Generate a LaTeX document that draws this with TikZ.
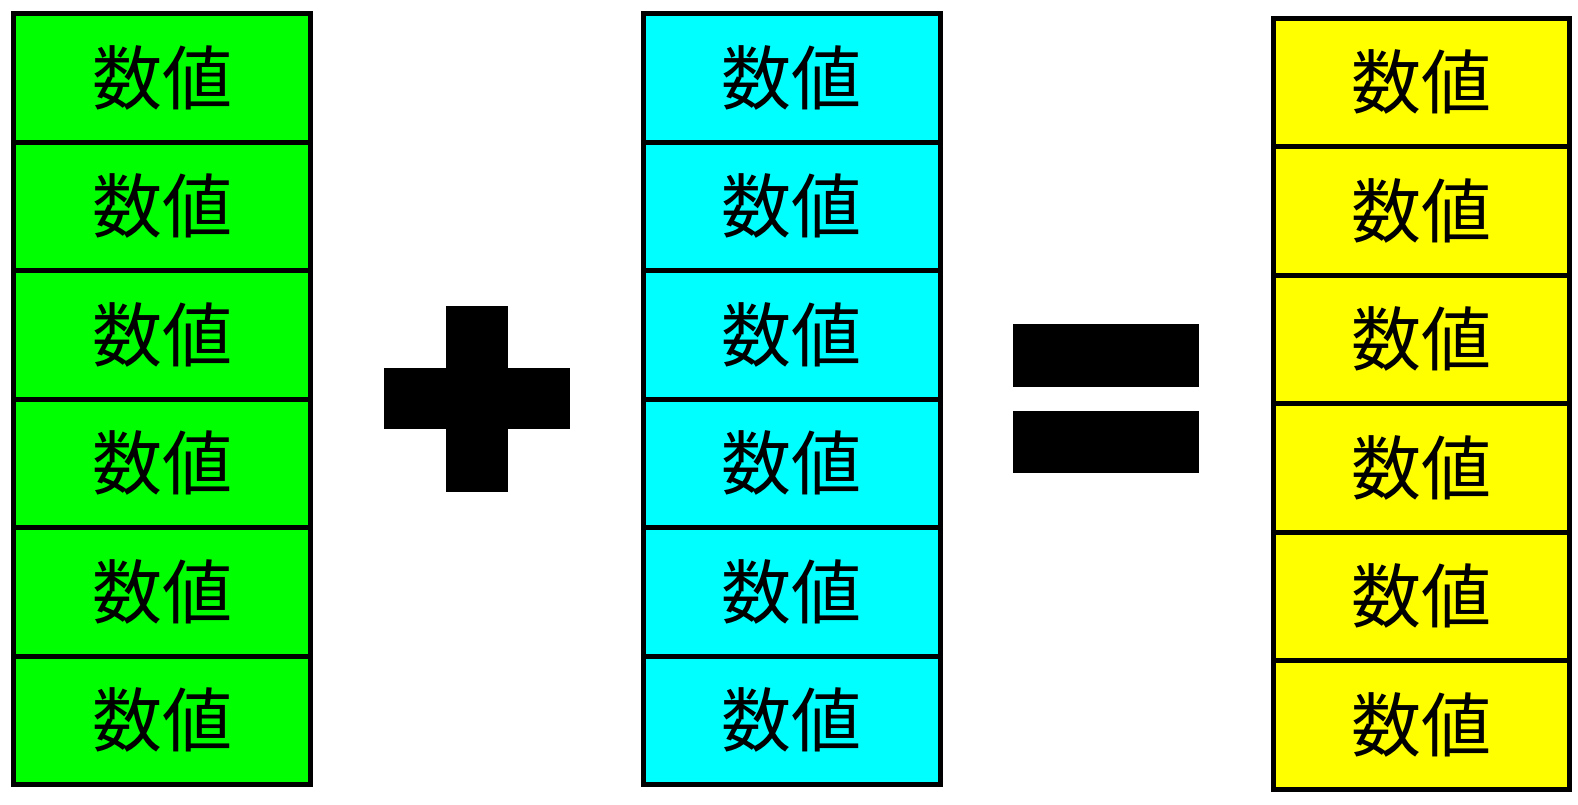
\documentclass[tikz,border=0pt]{standalone}
\usepackage{fontspec}
\newfontfamily\cjk{Noto Sans CJK JP}
\definecolor{cgreen}{HTML}{00FF00}
\definecolor{ccyan}{HTML}{00FFFF}
\definecolor{cyellow}{HTML}{FFFF00}
\tikzset{
  cell/.style={draw=black, line width=5pt, inner sep=0pt, minimum width=297pt, minimum height=128.5pt, font=\cjk\fontsize{70}{80}\selectfont},
  sym/.style={fill=black, draw=none}
}
\begin{document}
\begin{tikzpicture}[x=1pt,y=-1pt]
\useasboundingbox (0,0) rectangle (1578,804);
\foreach \i in {0,...,5}{
  \node[cell, fill=cgreen] (g\i) at (162, 13.5+64.25+128.5*\i) {数値};
  \node[cell, fill=ccyan] (c\i) at (791.5, 13.5+64.25+128.5*\i) {数値};
  \node[cell, fill=cyellow, minimum width=296pt] (y\i) at (1421, 18+64.25+128.5*\i) {数値};
}
% plus
\fill[sym] (446,305.7) rectangle (507.7,491.7);
\fill[sym] (384,367.7) rectangle (570,429.3);
% equals
\fill[sym] (1012.7,324) rectangle (1199,386.7);
\fill[sym] (1012.7,410.7) rectangle (1199,473.3);
\end{tikzpicture}
\end{document}
